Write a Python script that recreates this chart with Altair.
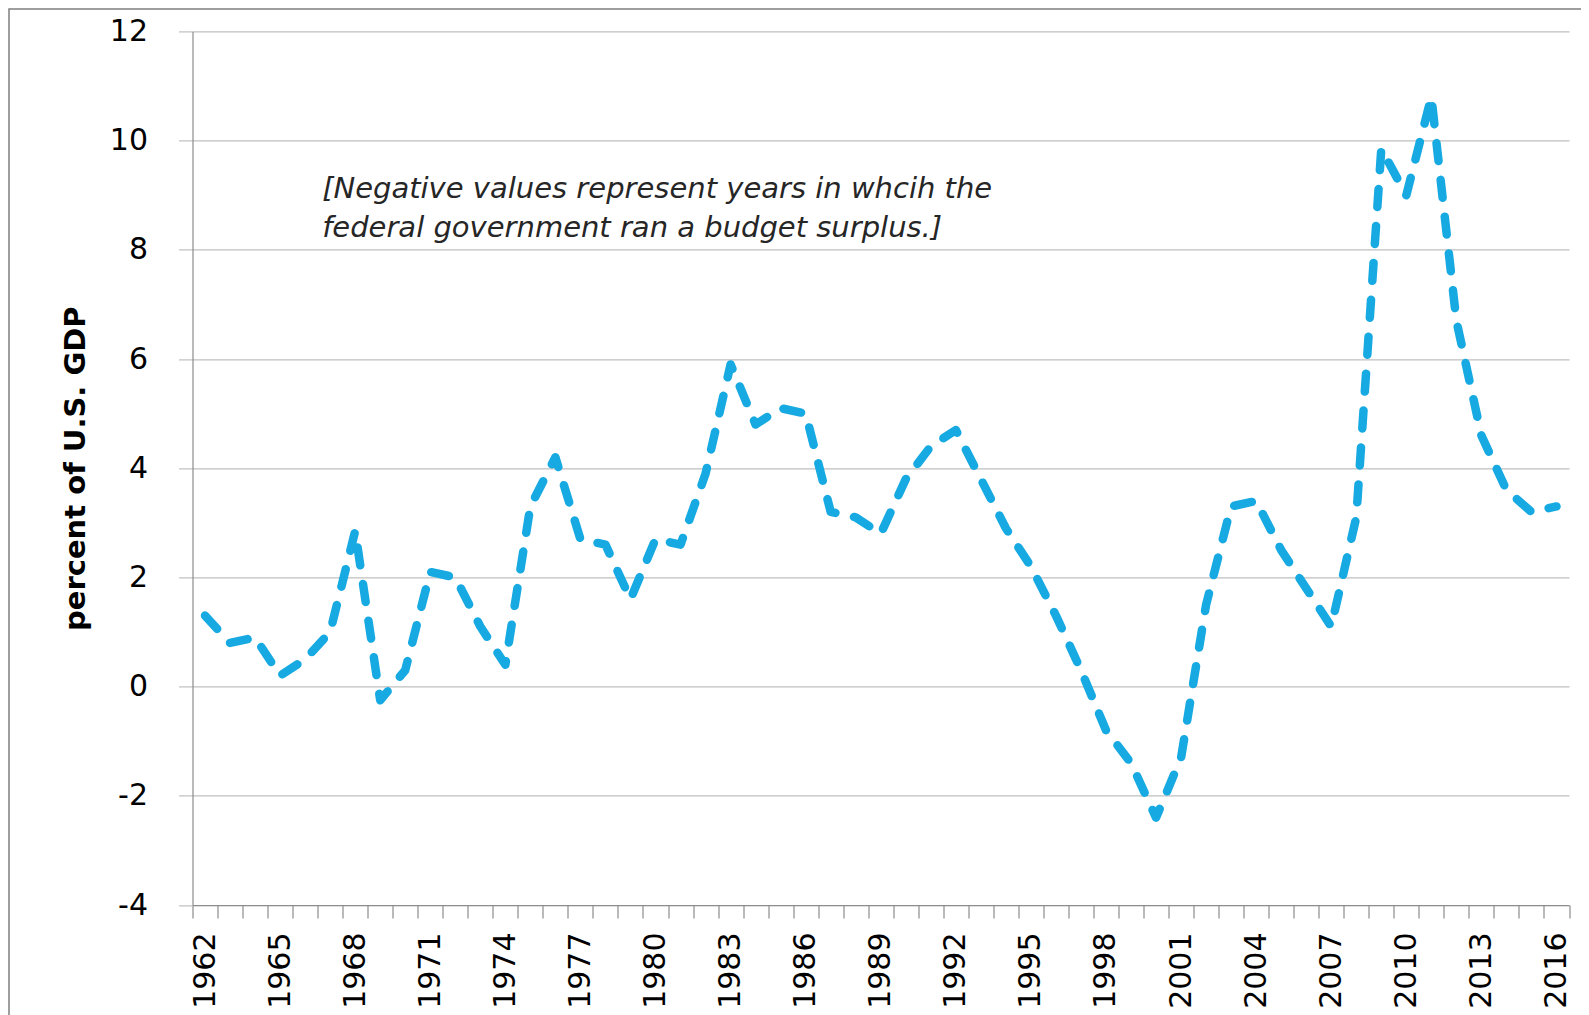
import altair as alt
import pandas as pd

years = list(range(1962, 2017))
deficit = [1.3, 0.8, 0.9, 0.2, 0.5, 1.0, 2.85, -0.25, 0.3, 2.1,
           2.0, 1.1, 0.4, 3.3, 4.2, 2.7, 2.6, 1.6, 2.7, 2.6,
           3.9, 5.9, 4.8, 5.1, 5.0, 3.2, 3.1, 2.8, 3.8, 4.4,
           4.7, 3.8, 2.9, 2.2, 1.3, 0.3, -0.8, -1.4, -2.4, -1.3,
           1.5, 3.3, 3.4, 2.5, 1.8, 1.1, 3.1, 9.85, 9.0, 10.8,
           6.7, 4.6, 3.6, 3.2, 3.3]
y_ticks = [-4, -2, 0, 2, 4, 6, 8, 10, 12]
note_lines = ["[Negative values represent years in whcih the",
              "federal government ran a budget surplus.]"]
note_year = [1967]
note_value = [8.94]

df = pd.DataFrame({"year": years, "value": deficit})
note_df = pd.DataFrame({"year": note_year, "value": note_value, "text": [note_lines]})
frame_df = pd.DataFrame({"k": [0]})

W = 1376.5
H = 873.6

x_enc = alt.X(
    "year:O",
    scale=alt.Scale(paddingInner=0, paddingOuter=0),
    axis=alt.Axis(
        title=None,
        labelAngle=-90,
        labelExpr="((+datum.value - 1962) % 3 == 0) ? datum.label : ''",
        labelFont="DejaVu Sans",
        labelFontSize=30,
        labelColor="#000000",
        labelPadding=14,
        labelOverlap=False,
        tickBand="extent",
        tickSize=13,
        tickColor="#8c8c8c",
        tickWidth=1.2,
        domainColor="#8c8c8c",
        domainWidth=1.2,
        grid=False,
    ),
)

y_enc = alt.Y(
    "value:Q",
    scale=alt.Scale(domain=[-4, 12], nice=False, zero=False),
    axis=alt.Axis(
        title="percent of U.S. GDP",
        titleFont="DejaVu Sans",
        titleFontSize=29,
        titleFontWeight="bold",
        titleColor="#000000",
        titlePadding=19,
        values=y_ticks,
        labelExpr="'' + datum.value",
        labelFont="DejaVu Sans",
        labelFontSize=30,
        labelColor="#000000",
        labelPadding=31,
        tickSize=14,
        tickColor="#bfbfbf",
        tickWidth=1.2,
        domainColor="#8c8c8c",
        domainWidth=1.2,
        grid=True,
        gridColor="#bfbfbf",
        gridWidth=1.2,
    ),
)

line = alt.Chart(df).mark_line(
    color="#17a9e1",
    strokeWidth=8.5,
    strokeDash=[18, 19],
    strokeCap="round",
    strokeJoin="round",
).encode(x=x_enc, y=y_enc)

note = alt.Chart(note_df).mark_text(
    align="left",
    baseline="alphabetic",
    dx=-8,
    font="DejaVu Sans",
    fontStyle="italic",
    fontSize=29,
    lineHeight=39,
    color="#262626",
).encode(x=alt.X("year:O"), y=alt.Y("value:Q"), text="text")

frame = alt.Chart(frame_df).mark_rect(
    fill=None, fillOpacity=0, stroke="#7f7f7f", strokeWidth=1.5
).encode(
    x=alt.value(-183.5), x2=alt.value(W + 40),
    y=alt.value(-22.5), y2=alt.value(H + 200),
)

chart = alt.layer(frame, line, note).properties(
    width=W,
    height=H,
    autosize=alt.AutoSizeParams(type="none"),
    padding={"left": 184.5, "top": 23.4, "right": 12, "bottom": 110},
    background="white",
).configure_view(stroke=None)

chart.save("out.html", embed_options={"renderer": "svg", "actions": False})
